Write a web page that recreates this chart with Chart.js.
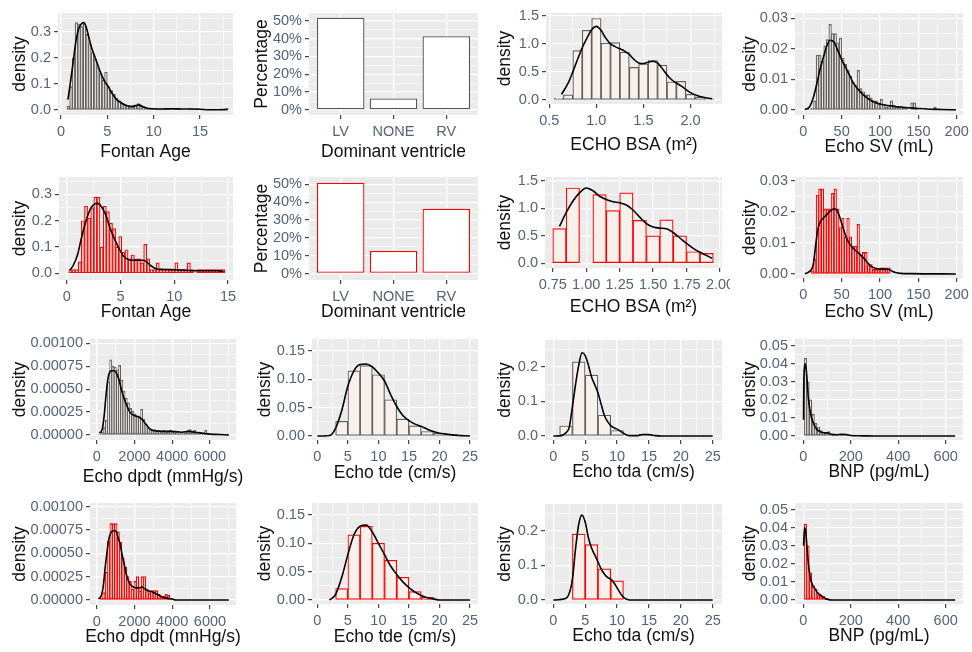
<!DOCTYPE html>
<html>
<head>
<meta charset="utf-8">
<script src="https://cdn.jsdelivr.net/npm/chart.js@4.4.1/dist/chart.umd.min.js"></script>
<style>
  body { margin: 0; background: #fff; }
  #wrap { position: relative; width: 972px; height: 652px; overflow: hidden; background: #fff; }
  #wrap canvas { position: absolute; }
</style>
</head>
<body>
<div id="wrap"></div>
<script>
// ---------- data ----------
// "A" = first cohort (grey outline, rows 1 and 3), "B" = second cohort (red outline, rows 2 and 4)

// Fontan age histograms (density), bins given by start + width
const ageHistA = [0.015,0.09,0.2,0.335,0.33,0.32,0.33,0.29,0.255,0.22,0.195,0.165,0.14,0.115,0.145,0.09,0.075,0.06,0.045,0.035,
  0.025,0.02,0.015,0.012,0.012,0.02,0.025,0.015,0.01,0.006,0.008,0.004,0.005,0.005,0.004,0.004,0.008,0.005,0.004,0.005,
  0.004,0.008,0.004,0,0,0.006,0.006,0.004,0.006,0,0,0,0,0,0,0,0,0,0,0.007];
const ageCurveA = [[0.75,0.04],[1.0,0.1],[1.3,0.18],[1.6,0.26],[1.9,0.31],[2.2,0.33],[2.45,0.335],[2.7,0.32],[3.0,0.28],[3.3,0.24],
  [3.6,0.21],[3.9,0.18],[4.2,0.15],[4.5,0.125],[4.8,0.105],[5.1,0.09],[5.4,0.07],[5.7,0.055],[6.0,0.04],[6.5,0.028],[7.0,0.018],
  [7.5,0.014],[8.0,0.016],[8.4,0.02],[8.8,0.014],[9.3,0.007],[10,0.005],[11,0.004],[12,0.005],[13,0.004],[14,0.004],[15,0.003],
  [16,0.001],[17,0.001],[18,0.002]];
const ageHistB = [0.015,0.015,0.015,0.044,0.2,0.255,0.21,0.25,0.29,0.29,0.1,0.255,0.235,0.19,0.17,0.1,0.14,0.08,0.09,0.055,
  0.07,0.055,0.055,0.04,0.11,0.055,0.015,0.015,0.04,0.015,0.015,0.015,0.015,0.015,0.04,0.015,0.015,0.015,0.04,0.015,
  0,0.015,0.015,0.015,0.015,0.015,0.015,0.015,0.015,0.015];
const ageCurveB = [[0.3,0.012],[0.6,0.03],[1.0,0.07],[1.4,0.14],[1.8,0.2],[2.2,0.245],[2.6,0.264],[2.9,0.266],[3.2,0.255],[3.6,0.225],
  [4.0,0.175],[4.4,0.135],[4.8,0.1],[5.2,0.07],[5.6,0.055],[6.0,0.05],[6.5,0.05],[7.0,0.05],[7.4,0.045],[7.8,0.03],[8.3,0.018],
  [9,0.015],[10,0.014],[11,0.012],[12,0.01],[13,0.01],[14,0.01],[14.6,0.008]];

// dominant ventricle (percent of patients)
const ventricleCats = ['LV', 'NONE', 'RV'];
const ventriclePctA = [51.6, 6.5, 41.3];
const ventriclePctB = [51.0, 12.6, 36.4];

// ECHO BSA
const bsaHistA = [0.03,0.09,0.88,1.24,1.45,1.01,1.02,0.85,0.58,0.64,0.70,0.62,0.32,0.33,0.10,0.05,0.02];
const bsaCurveA = [[0.63,0.1],[0.7,0.3],[0.75,0.5],[0.8,0.72],[0.85,0.93],[0.9,1.1],[0.95,1.25],[1.0,1.31],[1.05,1.24],[1.1,1.1],
  [1.15,1.0],[1.2,0.95],[1.25,0.91],[1.3,0.87],[1.35,0.81],[1.4,0.72],[1.45,0.66],[1.5,0.65],[1.55,0.67],[1.6,0.69],[1.65,0.66],
  [1.7,0.56],[1.75,0.45],[1.8,0.36],[1.9,0.25],[2.0,0.13],[2.1,0.06],[2.23,0.02]];
const bsaHistB = [0.63,1.37,0,1.25,0.96,1.28,0.78,0.5,0.79,0.5,0.21,0.18];
const bsaCurveB = [[0.8,0.67],[0.85,0.92],[0.9,1.13],[0.95,1.28],[1.0,1.37],[1.05,1.32],[1.1,1.22],[1.15,1.16],[1.2,1.12],[1.25,1.1],
  [1.3,1.06],[1.35,0.97],[1.4,0.84],[1.45,0.72],[1.5,0.66],[1.55,0.64],[1.6,0.63],[1.65,0.56],[1.7,0.46],[1.75,0.36],[1.8,0.27],
  [1.85,0.2],[1.9,0.14],[1.94,0.09]];

// Echo SV
const svHistA = [0,0.0002,0.0003,0.0006,0.003,0.018,0.018,0.016,0.021,0.023,0.028,0.025,0.025,0.022,0.0235,0.017,0.015,0.013,0.011,0.009,
  0.008,0.013,0.007,0.006,0.005,0.005,0.004,0.003,0.003,0.002,0.0035,0.002,0.001,0.0015,0.003,0.0015,0.001,0.001,0.001,0.0005,
  0.0005,0,0.0024,0.0024,0.0005,0,0,0,0,0,0,0.001];
const svCurveA = [[2,0.0002],[8,0.001],[13,0.004],[18,0.009],[22,0.0135],[26,0.017],[30,0.0205],[35,0.0228],[40,0.0222],[45,0.0195],
  [50,0.0165],[55,0.014],[60,0.0115],[65,0.009],[70,0.0072],[75,0.0058],[80,0.0046],[90,0.0029],[100,0.002],[110,0.0015],
  [120,0.0012],[130,0.0009],[140,0.0007],[150,0.0005],[165,0.0003],[180,0.0002],[199,0.0001]];
const svHistB = [0,0,0,0.001,0.005,0.0255,0.0275,0.0275,0.021,0.021,0.021,0.026,0.0275,0.021,0.015,0.018,0.012,0.018,0.012,0.009,
  0.009,0.016,0.006,0.007,0.007,0.003,0.003,0.0015,0.0015,0.0015,0.002,0.002,0.002,0.002];
const svCurveB = [[2,0.0001],[8,0.0008],[13,0.003],[16,0.009],[19,0.0145],[22,0.0168],[26,0.018],[30,0.019],[35,0.0203],[40,0.021],
  [44,0.0205],[48,0.018],[52,0.0148],[56,0.0118],[60,0.0098],[65,0.0083],[70,0.0072],[75,0.0061],[80,0.0048],[85,0.0033],
  [90,0.0022],[100,0.0016],[110,0.0015],[115,0.001],[120,0.0005],[127,0.0002],[140,0.0001],[199,0]];

// Echo dp/dt
const dpdtHistA = [0.00001,0.00003,0.00008,0.00016,0.00058,0.00082,0.00075,0.00074,0.00071,0.00076,0.0006,0.00048,0.0004,0.00035,
  0.00029,0.00026,0.00023,0.00021,0.0002,0.00028,0.00017,0.00012,0.00008,0.00006,0.00005,0.00006,0.00005,0.00005,0.00004,0.00005,
  0.00004,0.00004,0.00005,0.00003,0.00004,0.00003,0.00002,0.00003,0.00002,0.00004,0.00005,0.00006,0.00004,0.00005,0.00003,
  0.00002,0.00001,0.00001,0.00005,0.00001,0,0,0,0,0,0,0,0,0.00001];
const dpdtCurveA = [[150,0.00002],[300,0.00007],[400,0.00022],[500,0.00045],[600,0.00062],[700,0.00069],[800,0.0007],[900,0.0007],
  [1000,0.00069],[1100,0.00065],[1200,0.00059],[1300,0.0005],[1400,0.00043],[1500,0.00037],[1600,0.00032],[1700,0.00027],
  [1800,0.00024],[2000,0.00021],[2200,0.0002],[2400,0.00017],[2600,0.00012],[2800,0.00007],[3000,0.00005],[3500,0.00004],
  [4000,0.00004],[4500,0.00003],[4900,0.00004],[5200,0.00003],[5600,0.00002],[6000,0.00001],[6500,0.000005],[7000,0]];
const dpdtHistB = [0.00002,0.00008,0.0003,0.00063,0.00082,0.00082,0.00082,0.00073,0.00062,0.00045,0.00035,0.00025,0.0002,0.00012,
  0.0002,0.00025,0.0001,0.00025,0.00025,0.00012,0.00008,0.0001,0.0001,0.0001,0.00006,0.00004,0.00004,0.00006,0.00005];
const dpdtCurveB = [[100,0.00001],[250,0.00005],[350,0.00015],[450,0.00035],[550,0.00052],[650,0.00066],[750,0.00072],[850,0.00074],
  [950,0.00074],[1050,0.00073],[1150,0.00066],[1250,0.00059],[1350,0.00048],[1450,0.00039],[1550,0.00029],[1650,0.00022],
  [1800,0.00016],[1950,0.00014],[2100,0.00013],[2250,0.00013],[2400,0.00014],[2550,0.00012],[2700,0.0001],[2900,0.00009],
  [3100,0.00007],[3300,0.00005],[3500,0.00003],[3700,0.00002],[4000,0.00001],[4200,0],[7000,0]];

// Echo tde
const tdeHistA = [0.026,0.115,0.124,0.108,0.064,0.03,0.018,0.008,0.005,0.003];
const tdeCurveA = [[0,0],[1,0],[2,0.0008],[3,0.014],[4,0.045],[5,0.088],[6,0.115],[7,0.126],[8,0.127],[9,0.122],[10,0.111],
  [11,0.097],[12,0.073],[13,0.052],[14,0.036],[15,0.027],[16,0.021],[17,0.017],[18,0.012],[19,0.008],[20,0.005],[21,0.0035],
  [22,0.002],[23,0.001],[24,0.0005],[25,0]];
const tdeHistB = [0.02,0.115,0.13,0.1,0.07,0.04,0.015,0.005];
const tdeCurveB = [[2,0],[3,0.01],[4,0.04],[5,0.08],[6,0.115],[7,0.13],[8,0.132],[9,0.12],[10,0.1],[11,0.08],[12,0.06],[13,0.045],
  [14,0.032],[15,0.022],[16,0.014],[17,0.008],[18,0.004],[19,0.002],[20,0],[25,0]];

// Echo tda
const tdaHistA = [0.029,0.214,0.176,0.06,0.016,0,0.002];
const tdaCurveA = [[0,0],[1,0.0005],[1.5,0.003],[2,0.01],[2.5,0.025],[3,0.085],[3.5,0.15],[4,0.205],[4.5,0.24],[5,0.232],[5.5,0.205],
  [6,0.17],[6.5,0.148],[7,0.125],[7.5,0.092],[8,0.06],[8.5,0.042],[9,0.03],[9.5,0.024],[10,0.02],[10.5,0.014],[11,0.008],
  [11.5,0.003],[12,0.001],[13,0.001],[14,0.004],[15,0.004],[16,0.001],[17,0],[25,0]];
const tdaHistB = [0,0.19,0.16,0.09,0.055];
const tdaCurveB = [[0,0],[2,0.005],[3,0.06],[3.5,0.15],[4,0.22],[4.5,0.245],[5,0.225],[5.5,0.18],[6,0.15],[6.5,0.13],[7,0.11],
  [7.5,0.09],[8,0.075],[8.5,0.065],[9,0.06],[9.5,0.05],[10,0.035],[10.5,0.02],[11,0.008],[11.5,0.002],[12,0],[25,0]];

// BNP
const bnpHistA = [0.043,0.03,0.02,0.012,0.007,0.005,0.003,0.002,0.002,0.0025,0.001,0.0005,0.0005,0.0008,0.0008,0.0008,0.0005];
const bnpCurveA = [[1,0.009],[2,0.028],[5,0.038],[8,0.04],[12,0.037],[16,0.031],[20,0.023],[25,0.017],[30,0.013],[35,0.01],
  [40,0.008],[50,0.005],[60,0.0033],[70,0.0025],[80,0.002],[90,0.0017],[100,0.0018],[110,0.0014],[120,0.0009],[140,0.0007],
  [160,0.0009],[180,0.0008],[200,0.0003],[250,0.0001],[300,0],[640,0]];
const bnpHistB = [0.042,0.03,0.015,0.008,0.006,0.003,0.002,0.002,0.001];
const bnpCurveB = [[1,0.03],[5,0.04],[10,0.038],[15,0.03],[20,0.022],[30,0.012],[40,0.008],[50,0.006],[60,0.004],[70,0.003],
  [80,0.002],[90,0.001],[100,0.0005],[120,0],[640,0]];

// tick values and their labels
const ageTicks = [0, 5, 10, 15],            ageLabels = ['0', '5', '10', '15'];
const bsaTicksA = [0.5, 1.0, 1.5, 2.0],     bsaLabelsA = ['0.5', '1.0', '1.5', '2.0'];
const bsaTicksB = [0.75, 1, 1.25, 1.5, 1.75, 2], bsaLabelsB = ['0.75', '1.00', '1.25', '1.50', '1.75', '2.00'];
const svTicks = [0, 50, 100, 150, 200],     svLabels = ['0', '50', '100', '150', '200'];
const dpdtTicks = [0, 2000, 4000, 6000],    dpdtLabels = ['0', '2000', '4000', '6000'];
const velTicks = [0, 5, 10, 15, 20, 25],    velLabels = ['0', '5', '10', '15', '20', '25'];
const bnpTicks = [0, 200, 400, 600],        bnpLabels = ['0', '200', '400', '600'];
const catTicks = [1, 2, 3];
const pctTicks = [0, 10, 20, 30, 40, 50],   pctLabels = ['0%', '10%', '20%', '30%', '40%', '50%'];
const d1Ticks = [0, 0.1, 0.2, 0.3],         d1Labels = ['0.0', '0.1', '0.2', '0.3'];
const d2Ticks = [0, 0.1, 0.2],              d2Labels = ['0.0', '0.1', '0.2'];
const d3Ticks = [0, 0.5, 1, 1.5],           d3Labels = ['0.0', '0.5', '1.0', '1.5'];
const d4Ticks = [0, 0.01, 0.02, 0.03],      d4Labels = ['0.00', '0.01', '0.02', '0.03'];
const d5Ticks = [0, 0.01, 0.02, 0.03, 0.04, 0.05], d5Labels = ['0.00', '0.01', '0.02', '0.03', '0.04', '0.05'];
const d6Ticks = [0, 0.05, 0.1, 0.15],       d6Labels = ['0.00', '0.05', '0.10', '0.15'];
const d7Ticks = [0, 0.00025, 0.0005, 0.00075, 0.001];
const d7Labels = ['0.00000', '0.00025', '0.00050', '0.00075', '0.00100'];

// ---------- styling ----------
const FONT = '"Liberation Sans", Arial, sans-serif';
const TICK_COLOR = '#56627a';
const FILL = '#F8F0EA';
const GREY = '#606060';
const RED = '#FF0000';

const cols = [[0, 250], [240, 490], [490, 730], [730, 972]];
const rows = [[0, 165], [165, 325], [325, 490], [490, 652]];

function hist(start, width, values) {
  return values.map((v, i) => ({ x: start + width * (i + 0.5), y: v }));
}
function curve(pairs) {
  return pairs.map(p => ({ x: p[0], y: p[1] }));
}
function cats(values) {
  return values.map((v, i) => ({ x: catTicks[i], y: v }));
}

// plot box = [left, top, right, bottom] of the grey panel, page pixels
const panels = [
  { c: 0, r: 0, plot: [58, 13, 233, 115], xt: 152, yt: 20, edge: GREY,
    x: { min: -0.32, max: 18.56, ticks: ageTicks, labels: ageLabels, title: 'Fontan Age' },
    y: { min: -0.019, max: 0.372, ticks: d1Ticks, labels: d1Labels, title: 'density' },
    bars: hist(0.65, 0.29, ageHistA), line: ageCurveA },
  { c: 1, r: 0, plot: [309, 13, 478, 115], xt: 152, yt: 262, edge: '#555555', cat: true,
    x: { min: 0.4, max: 3.6, ticks: catTicks, labels: ventricleCats, title: 'Dominant ventricle', minor: false },
    y: { min: -2.8, max: 54.3, ticks: pctTicks, labels: pctLabels, title: 'Percentage' },
    bars: cats(ventriclePctA) },
  { c: 2, r: 0, plot: [546, 13, 722, 104], xt: 145, yt: 505, edge: GREY,
    x: { min: 0.465, max: 2.335, ticks: bsaTicksA, labels: bsaLabelsA, title: 'ECHO BSA (m\u00B2)' },
    y: { min: -0.072, max: 1.548, ticks: d3Ticks, labels: d3Labels, title: 'density' },
    bars: hist(0.55, 0.1, bsaHistA), line: bsaCurveA },
  { c: 3, r: 0, plot: [795, 13, 963, 115], xt: 147, yt: 750, edge: GREY,
    x: { min: -10.8, max: 208.2, ticks: svTicks, labels: svLabels, title: 'Echo SV (mL)' },
    y: { min: -0.0016, max: 0.0317, ticks: d4Ticks, labels: d4Labels, title: 'density' },
    bars: hist(0, 10 / 3, svHistA), line: svCurveA },

  { c: 0, r: 1, plot: [59, 177, 233, 280], xt: 312, yt: 20, edge: RED,
    x: { min: -0.72, max: 15.47, ticks: ageTicks, labels: ageLabels, title: 'Fontan Age' },
    y: { min: -0.025, max: 0.366, ticks: d1Ticks, labels: d1Labels, title: 'density' },
    bars: hist(0.2, 0.29, ageHistB), line: ageCurveB },
  { c: 1, r: 1, plot: [309, 177, 478, 280], xt: 312, yt: 262, edge: RED, cat: true,
    x: { min: 0.4, max: 3.6, ticks: catTicks, labels: ventricleCats, title: 'Dominant ventricle', minor: false },
    y: { min: -3.65, max: 54.2, ticks: pctTicks, labels: pctLabels, title: 'Percentage' },
    bars: cats(ventriclePctB) },
  { c: 2, r: 1, plot: [545, 177, 722, 268], xt: 307, yt: 505, edge: RED,
    x: { min: 0.692, max: 2.015, ticks: bsaTicksB, labels: bsaLabelsB, title: 'ECHO BSA (m\u00B2)' },
    y: { min: -0.086, max: 1.57, ticks: d3Ticks, labels: d3Labels, title: 'density' },
    bars: hist(0.75, 0.1, bsaHistB), line: bsaCurveB },
  { c: 3, r: 1, plot: [795, 177, 963, 278], xt: 312, yt: 750, edge: RED,
    x: { min: -10.8, max: 208.2, ticks: svTicks, labels: svLabels, title: 'Echo SV (mL)' },
    y: { min: -0.0013, max: 0.0313, ticks: d4Ticks, labels: d4Labels, title: 'density' },
    bars: hist(0, 10 / 3, svHistB), line: svCurveB },

  { c: 0, r: 2, plot: [90, 339, 236, 440], xt: 477, yt: 20, edge: GREY,
    x: { min: -355, max: 7377, ticks: dpdtTicks, labels: dpdtLabels, title: 'Echo dpdt (mmHg/s)' },
    y: { min: -0.0000545, max: 0.001047, ticks: d7Ticks, labels: d7Labels, title: 'density' },
    bars: hist(100, 117, dpdtHistA), line: dpdtCurveA },
  { c: 1, r: 2, plot: [312, 339, 478, 440], xt: 473, yt: 265, edge: GREY,
    x: { min: -0.87, max: 26.3, ticks: velTicks, labels: velLabels, title: 'Echo tde (cm/s)' },
    y: { min: -0.007, max: 0.171, ticks: d6Ticks, labels: d6Labels, title: 'density' },
    bars: hist(3, 2, tdeHistA), line: tdeCurveA },
  { c: 2, r: 2, plot: [545, 340, 722, 440], xt: 472, yt: 505, edge: GREY,
    x: { min: -1.3, max: 26.45, ticks: velTicks, labels: velLabels, title: 'Echo tda (cm/s)' },
    y: { min: -0.0115, max: 0.277, ticks: d2Ticks, labels: d2Labels, title: 'density' },
    bars: hist(1, 2, tdaHistA), line: tdaCurveA },
  { c: 3, r: 2, plot: [795, 339, 963, 440], xt: 472, yt: 750, edge: GREY,
    x: { min: -35, max: 673, ticks: bnpTicks, labels: bnpLabels, title: 'BNP (pg/mL)' },
    y: { min: -0.0022, max: 0.0537, ticks: d5Ticks, labels: d5Labels, title: 'density' },
    bars: hist(3, 11, bnpHistA), line: bnpCurveA },

  { c: 0, r: 3, plot: [90, 503, 236, 605], xt: 637, yt: 20, edge: RED,
    x: { min: -355, max: 7377, ticks: dpdtTicks, labels: dpdtLabels, title: 'Echo dpdt (mnHg/s)' },
    y: { min: -0.0000536, max: 0.00104, ticks: d7Ticks, labels: d7Labels, title: 'density' },
    bars: hist(190, 127, dpdtHistB), line: dpdtCurveB },
  { c: 1, r: 3, plot: [312, 503, 478, 604], xt: 637, yt: 265, edge: RED,
    x: { min: -0.87, max: 26.3, ticks: velTicks, labels: velLabels, title: 'Echo tde (cm/s)' },
    y: { min: -0.007, max: 0.171, ticks: d6Ticks, labels: d6Labels, title: 'density' },
    bars: hist(3, 2, tdeHistB), line: tdeCurveB },
  { c: 2, r: 3, plot: [545, 504, 722, 604], xt: 636, yt: 505, edge: RED,
    x: { min: -1.3, max: 26.45, ticks: velTicks, labels: velLabels, title: 'Echo tda (cm/s)' },
    y: { min: -0.0115, max: 0.277, ticks: d2Ticks, labels: d2Labels, title: 'density' },
    bars: hist(1, 2, tdaHistB), line: tdaCurveB },
  { c: 3, r: 3, plot: [795, 503, 963, 604], xt: 636, yt: 750, edge: RED,
    x: { min: -35, max: 673, ticks: bnpTicks, labels: bnpLabels, title: 'BNP (pg/mL)' },
    y: { min: -0.0022, max: 0.0537, ticks: d5Ticks, labels: d5Labels, title: 'density' },
    bars: hist(3, 11, bnpHistB), line: bnpCurveB }
];

// ---------- plugins ----------
// grey ggplot-style panel
const panelBg = {
  id: 'panelBg',
  beforeDraw(chart) {
    const { ctx, chartArea: a } = chart;
    ctx.save();
    ctx.fillStyle = '#EBEBEB';
    ctx.fillRect(a.left, a.top, a.right - a.left, a.bottom - a.top);
    ctx.restore();
  }
};

// axis titles drawn by hand so long titles can overflow the panel like in the figure
const axisTitles = {
  id: 'axisTitles',
  afterDraw(chart, args, o) {
    const { ctx, chartArea: a } = chart;
    ctx.save();
    ctx.fillStyle = '#111111';
    ctx.font = '17.5px ' + FONT;
    ctx.textAlign = 'center';
    ctx.textBaseline = 'middle';
    ctx.fillText(o.x, (a.left + a.right) / 2, o.xy);
    ctx.translate(o.yx, (a.top + a.bottom) / 2);
    ctx.rotate(-Math.PI / 2);
    ctx.fillText(o.y, 0, 0);
    ctx.restore();
  }
};

// major ticks get labels, minor ones (half way) only a thin grid line
function makeTicks(ax) {
  const out = ax.ticks.map((v, i) => ({ value: v, text: ax.labels[i], minor: false }));
  if (ax.minor !== false) {
    const step = ax.ticks[1] - ax.ticks[0];
    for (let m = ax.ticks[0] - step / 2; m <= ax.max; m += step) {
      if (m >= ax.min) out.push({ value: m, text: '', minor: true });
    }
  }
  return out.sort((a, b) => a.value - b.value);
}

function axis(ax, horizontal, size) {
  return {
    type: 'linear',
    min: ax.min,
    max: ax.max,
    bounds: 'data',
    offset: false,
    border: { display: false },
    grid: {
      offset: false,
      color: '#FFFFFF',
      lineWidth: c => (c.tick && c.tick.minor ? 0.6 : 1.3),
      tickColor: c => (c.tick && c.tick.minor ? 'rgba(0,0,0,0)' : '#333333'),
      tickLength: 4,
      tickWidth: 1.1
    },
    ticks: {
      autoSkip: false,
      maxRotation: 0,
      minRotation: 0,
      padding: horizontal ? 4 : 3,
      color: TICK_COLOR,
      font: { family: FONT, size: 14.5 },
      callback: (v, i, t) => t[i].text
    },
    afterBuildTicks: s => { s.ticks = makeTicks(ax); },
    afterFit: s => {
      if (horizontal) s.height = size; else s.width = size;
      s.paddingLeft = s.paddingRight = s.paddingTop = s.paddingBottom = 0;
    }
  };
}

// ---------- build the 16 panels ----------
const wrap = document.getElementById('wrap');

panels.forEach(p => {
  const [cl, cr] = cols[p.c];
  const [ct, cb] = rows[p.r];
  const [l, t, r, b] = p.plot;

  const canvas = document.createElement('canvas');
  canvas.width = cr - cl;
  canvas.height = cb - ct;
  canvas.style.left = cl + 'px';
  canvas.style.top = ct + 'px';
  wrap.appendChild(canvas);

  const datasets = [{
    type: 'bar',
    data: p.bars,
    backgroundColor: p.cat ? '#FFFFFF' : FILL,
    borderColor: p.edge,
    borderWidth: p.cat ? 1.3 : 1.2,
    borderSkipped: false,
    barPercentage: p.cat ? 0.9 : 1,
    categoryPercentage: 1,
    order: 2
  }];
  if (p.line) {
    datasets.push({
      type: 'line',
      data: curve(p.line),
      borderColor: '#000000',
      borderWidth: 1.6,
      pointRadius: 0,
      fill: false,
      cubicInterpolationMode: 'monotone',
      order: 1
    });
  }

  new Chart(canvas, {
    type: 'bar',
    data: { datasets },
    options: {
      responsive: false,
      animation: false,
      events: [],
      layout: { padding: { left: 0, top: t - ct, right: cr - r, bottom: 0 } },
      scales: {
        x: axis(p.x, true, cb - b),
        y: axis(p.y, false, l - cl)
      },
      plugins: {
        legend: { display: false },
        tooltip: { enabled: false },
        axisTitles: { x: p.x.title, y: p.y.title, xy: p.xt - ct, yx: p.yt - cl }
      }
    },
    plugins: [panelBg, axisTitles]
  });
});
</script>
</body>
</html>
